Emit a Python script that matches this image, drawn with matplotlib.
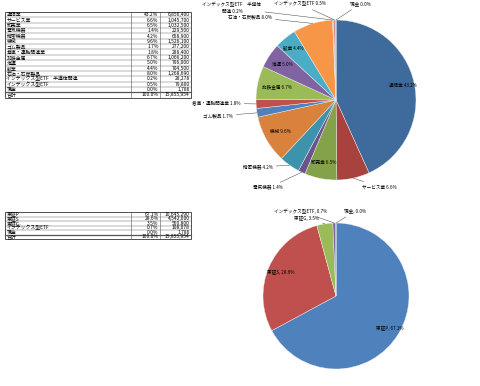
import matplotlib

matplotlib.use("Agg")
import matplotlib.pyplot as plt
import numpy as np

plt.rcParams["font.family"] = ["Noto Sans CJK JP", "DejaVu Sans"]

W, H = 480, 386

# --- data: by sector ---
sector_names = ["通信業", "サービス業", "卸売業", "電気機器", "精密機器", "機械",
                "ゴム製品", "倉庫・運輸関連業", "非鉄金属", "海運", "鉱業",
                "石油・石炭製品", "インデックス型ETF　半導体関連", "インデックス型ETF", "現金"]
sector_pct = [43.2, 6.6, 6.5, 1.4, 4.2, 9.6, 1.7, 1.8, 6.7, 5.0, 4.4, 8.0, 0.2, 0.5, 0.0]
sector_yen = [6856400, 1045700, 1032500, 229500, 658900, 1526100, 277200, 288400,
              1066200, 796000, 704500, 1268690, 28278, 79800, 1786]
sector_total = 15855954
sector_colors = ["#3f6a9c", "#a8423f", "#84a24a", "#6b548c", "#3c93ab", "#d9823e",
                 "#4f81bd", "#c0504d", "#9bbb59", "#8064a2", "#4bacc6", "#f79646",
                 "#8ea8d4", "#d48c8a", "#b4c98e"]

# --- data: by market ---
market_names = ["東証P", "東証S", "東証G", "インデックス型ETF", "現金"]
market_pct = [67.1, 28.6, 3.5, 0.7, 0.0]
market_yen = [10645290, 4542000, 560800, 108078, 1786]
market_total = 15855954
market_colors = ["#4f81bd", "#c0504d", "#9bbb59", "#8064a2", "#4bacc6"]

FS_TAB = 3.5
FS_PIE = 3.3


def draw_table(ax, top, row_h, names, pcts, yens, total):
    left, c1, c2, right = 5, 131, 160, 191
    n = len(names) + 1
    bottom = top + n * row_h
    for i in range(1, n):
        y = top + i * row_h
        lw = 0.9 if i == n - 1 else 0.3
        ax.plot([left, right], [y, y], color="#555555", lw=lw)
    for x in (c1, c2):
        ax.plot([x, x], [top, bottom], color="#555555", lw=0.4)
    ax.add_patch(plt.Rectangle((left, top), right - left, bottom - top,
                               fill=False, ec="#333333", lw=0.6))
    rows = list(zip(names, pcts, yens)) + [("合計", 100.0, total)]
    for i, (nm, p, v) in enumerate(rows):
        y = top + (i + 0.5) * row_h
        ax.text(left + 1.5, y, nm.replace("　", "    "), fontsize=FS_TAB, va="center", ha="left")
        ax.text(c2 - 1.5, y, f"{p:.1f}%", fontsize=FS_TAB, va="center", ha="right")
        ax.text(right - 1.5, y, f"{v:,}", fontsize=FS_TAB, va="center", ha="right")


def draw_pie(fig, cx, cy, r, values, labels, colors, layout):
    ax = fig.add_axes([(cx - r) / W, 1 - (cy + r) / H, 2 * r / W, 2 * r / H])
    wedges, _ = ax.pie(values, colors=colors, startangle=90, counterclock=False,
                       wedgeprops=dict(edgecolor="#f0f0f0", linewidth=0.3))
    ax.set_xlim(-1, 1)
    ax.set_ylim(-1, 1)
    for w, lab, spec in zip(wedges, labels, layout):
        ang = np.deg2rad((w.theta1 + w.theta2) / 2)
        edge = (np.cos(ang), np.sin(ang))
        if spec[0] == "in":
            rr = spec[1]
            ax.text(rr * edge[0], rr * edge[1], lab, fontsize=FS_PIE, ha="center", va="center")
        else:
            (tx, ty), ha = spec[1], spec[2]
            ax.annotate(lab, xy=edge, xytext=(tx, ty), fontsize=FS_PIE, ha=ha, va="center",
                        annotation_clip=False,
                        arrowprops=dict(arrowstyle="-", lw=0.35, color="#444444",
                                        shrinkA=0.5, shrinkB=0))
    return ax


fig = plt.figure(figsize=(W / 100, H / 100), dpi=100)
bg = fig.add_axes([0, 0, 1, 1])
bg.set_xlim(0, W)
bg.set_ylim(H, 0)
bg.axis("off")

draw_table(bg, 12, 5.35, sector_names, sector_pct, sector_yen, sector_total)
draw_table(bg, 212, 4.5, market_names, market_pct, market_yen, market_total)

top_labels = [f"{n} {p:.1f}%" for n, p in zip(sector_names, sector_pct)]
top_labels[12] = f"インデックス型ETF　半導体\n関連 {sector_pct[12]:.1f}%"
top_layout = [
    ("in", 0.86),
    ("out", (0.33, -1.09), "left"),
    ("in", 0.8),
    ("out", (-0.66, -1.1), "right"),
    ("out", (-0.79, -0.84), "right"),
    ("in", 0.8),
    ("out", (-1.29, -0.2), "right"),
    ("out", (-1.19, -0.04), "right"),
    ("in", 0.75),
    ("in", 0.8),
    ("in", 0.84),
    ("out", (-0.8, 1.04), "right"),
    ("out", (-1.3, 1.15), "center"),
    ("out", (-0.45, 1.2), "center"),
    ("out", (0.17, 1.2), "left"),
]
draw_pie(fig, 336, 100, 80, sector_yen, top_labels, sector_colors, top_layout)

bottom_labels = [f"{n}, {p:.1f}%" for n, p in zip(market_names, market_pct)]
bottom_layout = [
    ("in", 0.86),
    ("in", 0.82),
    ("out", (-0.23, 1.06), "right"),
    ("out", (-0.48, 1.16), "center"),
    ("out", (0.11, 1.16), "left"),
]
draw_pie(fig, 336, 296, 73, market_yen, bottom_labels, market_colors, bottom_layout)

fig.savefig("out.png", dpi=100)
plt.close(fig)
